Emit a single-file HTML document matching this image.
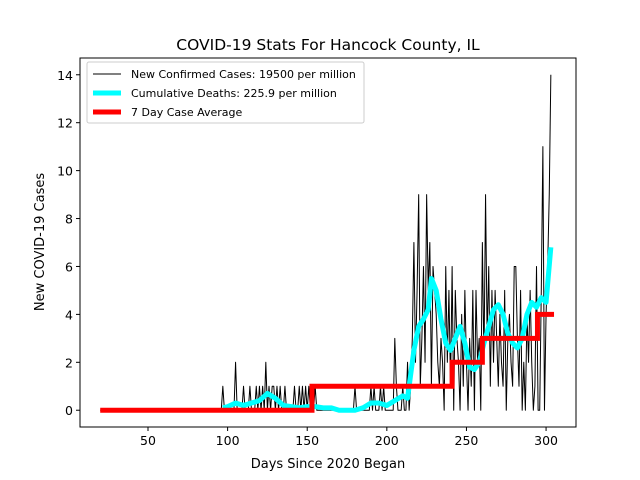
<!DOCTYPE html>
<html><head><meta charset="utf-8"><style>
body{margin:0;background:#fff}
svg{display:block;font-family:"DejaVu Sans","Liberation Sans",sans-serif}
</style></head><body>
<svg id="chart" width="640" height="480" viewBox="0 0 640 480">
<rect width="640" height="480" fill="#fff"/>
<text x="328" y="50" font-size="15.5" text-anchor="middle">COVID-19 Stats For Hancock County, IL</text>
<text x="328" y="468" font-size="13" text-anchor="middle">Days Since 2020 Began</text>
<text transform="translate(44,242) rotate(-90)" font-size="13" text-anchor="middle">New COVID-19 Cases</text>
<g id="plot"></g>
<rect x="80" y="58" width="496" height="369" fill="none" stroke="#000" stroke-width="1"/>
<g id="legend">
<rect x="87" y="62" width="277" height="61" rx="2" fill="#fff" fill-opacity="0.8" stroke="#ccc"/>
<line x1="93" y1="74" x2="121" y2="74" stroke="#000" stroke-width="1"/>
<text x="131" y="78" font-size="11">New Confirmed Cases: 19500 per million</text>
<line x1="93" y1="93" x2="121" y2="93" stroke="#00ffff" stroke-width="5"/>
<text x="131" y="97" font-size="11">Cumulative Deaths: 225.9 per million</text>
<line x1="93" y1="112" x2="121" y2="112" stroke="#ff0000" stroke-width="5"/>
<text x="131" y="116" font-size="11">7 Day Case Average</text>
</g>
</svg>
<script>
const caseStartDay = 20;
const caseValues = [].concat(
 new Array(75).fill(0),
 [0,0,1,0,0],
 [0,0,0,0,0,2,0,0,0,0,1],
 [0,0,0,1,0,0,0,1,0,1],
 [0,1,0,2,0,1,0,1,1,0],
 [1,0,1,0,0,1,0,0,0,0],
 [0,1,0,0,1,0,1,0,1,0],
 [1,0,0,0,1,0,0,0,0,0],
 [0,0,0,0,0,0,0,0,0,0],
 [0,0,0,0,0,0,0,0,0,1],
 [0,0,0,0,0,0,0,0,0,1],
 [0,1,0,0,0,1,0,1,0,0],
 [0,0,0,0,3,1,0,0,0,1],
 [0,0,2,0,1,3,7,2,5,9],
 [1,3,6,2,9,5,7,1,6,5],
 [4,2,1,3,2,0,6,2,5,1],
 [6,0,5,3,2,0,4,1,5,2],
 [0,3,1,5,0,5,2,3,0,7],
 [2,9,3,6,1,5,2,5,3,1],
 [4,2,1,5,0,3,4,2,1,6],
 [6,3,1,5,0,2,0,4,2,5],
 [2,0,1,6,0,0,5,11,0,4],
 [6,9,14]
);
const deathDays = [97,100,105,110,115,120,125,130,135,140,145,150,155,160,165,170,180,185,190,195,200,205,210,213,217,220,223,226,228,231,234,237,240,243,246,249,252,255,258,261,264,267,270,273,276,279,282,285,288,291,294,297,300,303];
const deathValues = [0.1,0.15,0.3,0.2,0.3,0.4,0.7,0.5,0.2,0.15,0.1,0.15,0.15,0.1,0.1,0.0,0.0,0.1,0.3,0.3,0.2,0.4,0.6,0.5,2.5,3.5,3.8,4.2,5.5,5.0,3.8,2.8,2.5,3.0,3.5,2.8,1.8,1.7,2.0,2.8,3.5,4.2,4.4,4.0,3.2,2.8,2.6,3.0,4.0,4.5,4.3,4.7,4.5,6.8];
const avgStepDays = [20,153,241,260,294.6,305];
const avgStepValues = [0,1,2,3,4,4];
const xTicks = [50,100,150,200,250,300];
const yTicks = [0,2,4,6,8,10,12,14];

const X0=80,X1=576,Y0=427,Y1=58, xmin=7.3, xmax=318.8, ymin=-0.7, ymax=14.7;
const sx=d=>X0+(d-xmin)/(xmax-xmin)*(X1-X0);
const sy=v=>Y0-(v-ymin)/(ymax-ymin)*(Y0-Y1);
const NS="http://www.w3.org/2000/svg";
const plot=document.getElementById('plot');
function mk(tag,attrs){const e=document.createElementNS(NS,tag);for(const k in attrs)e.setAttribute(k,attrs[k]);return e;}

xTicks.forEach(t=>{
 const g=mk('g',{});
 
 
 g.appendChild(mk('line',{x1:sx(t),x2:sx(t),y1:Y0,y2:Y0+4,stroke:'#000'}));
 const tx=mk('text',{x:sx(t),y:Y0+18,'font-size':12.5,'text-anchor':'middle'});tx.textContent=t;g.appendChild(tx);
 plot.appendChild(g);
});
yTicks.forEach(t=>{
 const g=mk('g',{});
 
 
 g.appendChild(mk('line',{x1:X0-4,x2:X0,y1:sy(t),y2:sy(t),stroke:'#000'}));
 const tx=mk('text',{x:X0-7,y:sy(t)+5,'font-size':12.5,'text-anchor':'end'});tx.textContent=t;g.appendChild(tx);
 plot.appendChild(g);
});

const cp=caseValues.map((v,i)=>sx(caseStartDay+i).toFixed(2)+','+sy(v).toFixed(2)).join(' ');
const cases=mk('polyline',{points:cp,fill:'none',stroke:'#000','stroke-width':1,'stroke-linejoin':'round'});


plot.appendChild(cases);

const dp=deathDays.map((d,i)=>sx(d).toFixed(2)+','+sy(deathValues[i]).toFixed(2)).join(' ');
const deaths=mk('polyline',{points:dp,fill:'none',stroke:'#00ffff','stroke-width':5,'stroke-linejoin':'round'});


plot.appendChild(deaths);

let ap=[];
for(let i=0;i<avgStepDays.length;i++){
 if(i>0) ap.push(sx(avgStepDays[i]).toFixed(2)+','+sy(avgStepValues[i-1]).toFixed(2));
 ap.push(sx(avgStepDays[i]).toFixed(2)+','+sy(avgStepValues[i]).toFixed(2));
}
const avg=mk('polyline',{points:ap.join(' '),fill:'none',stroke:'#ff0000','stroke-width':5,'stroke-linejoin':'miter'});


plot.appendChild(avg);
</script>
</body></html>
